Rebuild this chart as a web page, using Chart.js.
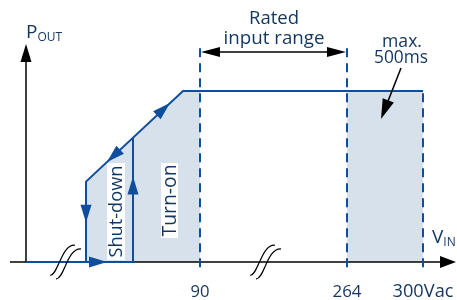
<!DOCTYPE html>
<html><head><meta charset="utf-8">
<script src="https://cdn.jsdelivr.net/npm/chart.js@4"></script>
<style>html,body{margin:0;padding:0;background:#fff}#w{width:457px;height:300px;position:relative}</style>
</head><body><div id="w"><canvas id="c"></canvas></div>
<script>
// Schematic units: x = position along the (broken) V_IN axis, 0 at the P_OUT axis
// y = output power in % of full load
const xShutdown = 60, xTurnOn = 107, xKnee = 157;
const xTicks = [174, 321, 397];
const tickLabels = ['90', '264', '300Vac'];
const yShutdown = 47, yTurnOn = 73, yFull = 100;
const dashTop = 127, dashBottom = -3;
const xAxisRange = [-16, 425];
const yAxisRange = [0, 120];
const breakMarks = [40, 240];

const BLUE = '#0f4d9d', SHADE = '#d6e1ec', TEXT = '#12365f';
const FONT = '"Open Sans"';
const pt = (x, y) => ({x, y});

const shadeTurnOn = [pt(xShutdown,0), pt(xShutdown,yShutdown), pt(xKnee,yFull), pt(xTicks[0],yFull), pt(xTicks[0],0)];
const shadeSurge = [pt(xTicks[1],0), pt(xTicks[1],yFull), pt(xTicks[2],yFull), pt(xTicks[2],0)];
const turnOnPath = [pt(0,0), pt(xTurnOn,0), pt(xTurnOn,yTurnOn)];
const mainPath = [pt(xShutdown,0), pt(xShutdown,yShutdown), pt(xKnee,yFull), pt(xTicks[2],yFull)];

const base = {pointRadius:0, borderJoinStyle:'miter', tension:0, fill:false};
const datasets = [
  {...base, data: shadeTurnOn, borderWidth:0, backgroundColor:SHADE, fill:'origin', order:10},
  {...base, data: shadeSurge, borderWidth:0, backgroundColor:SHADE, fill:'origin', order:10},
  {...base, data: [pt(xAxisRange[0],0), pt(xAxisRange[1],0)], borderColor:'#000', borderWidth:1.5, order:6},
  {...base, data: [pt(0,yAxisRange[0]), pt(0,yAxisRange[1])], borderColor:'#000', borderWidth:1.5, order:6},
  {...base, data: [pt(xTicks[0],dashBottom), pt(xTicks[0],dashTop)], borderColor:BLUE, borderWidth:2, borderDash:[9,6], order:3},
  {...base, data: [pt(xTicks[1],dashBottom), pt(xTicks[1],dashTop)], borderColor:BLUE, borderWidth:2, borderDash:[9,6], order:3},
  {...base, data: [pt(xTicks[2],dashBottom), pt(xTicks[2],yFull)], borderColor:BLUE, borderWidth:2, borderDash:[9,6], order:3},
  {...base, data: turnOnPath, borderColor:BLUE, borderWidth:2, order:1},
  {...base, data: mainPath, borderColor:BLUE, borderWidth:2, order:1},
];

const arrowMarks = [
  {at:[xShutdown,23], from:[xShutdown,yShutdown]},
  {at:[81,0], from:[0,0]},
  {at:[xTurnOn,50], from:[xTurnOn,0]},
  {at:[144,93], from:[xShutdown,yShutdown]},
  {at:[81,58.5], from:[xKnee,yFull]},
];

function head(ctx, tx, ty, ang, len, hw, color){
  ctx.save(); ctx.translate(tx,ty); ctx.rotate(ang);
  ctx.beginPath(); ctx.moveTo(0,0); ctx.lineTo(-len,-hw); ctx.lineTo(-len,hw); ctx.closePath();
  ctx.fillStyle=color; ctx.fill(); ctx.restore();
}
function fit(ctx, text, width){
  ctx.font = '20px ' + FONT;
  const s = 20 * width / ctx.measureText(text).width;
  ctx.font = s.toFixed(2) + 'px ' + FONT;
}

const deco = {
  id:'deco',
  afterDatasetsDraw(chart){
    const {ctx, scales:{x, y}} = chart;
    const X = v => x.getPixelForValue(v), Y = v => y.getPixelForValue(v);
    ctx.save();
    head(ctx, X(0), Y(127.5), -Math.PI/2, 18, 5.5, '#000');
    head(ctx, X(430), Y(0), 0, 16, 6, '#000');
    for (const a of arrowMarks){
      const tx=X(a.at[0]), ty=Y(a.at[1]), fx=X(a.from[0]), fy=Y(a.from[1]);
      head(ctx, tx, ty, Math.atan2(ty-fy, tx-fx), 18, 5.5, BLUE);
    }
    const ry = Y(122.8);
    ctx.strokeStyle='#000'; ctx.lineWidth=1.5;
    ctx.beginPath(); ctx.moveTo(X(xTicks[0])+10, ry); ctx.lineTo(X(xTicks[1])-10, ry); ctx.stroke();
    head(ctx, X(xTicks[0])+1, ry, Math.PI, 19, 5, '#000');
    head(ctx, X(xTicks[1])-1, ry, 0, 19, 5, '#000');
    const ax0=X(375), ay0=Y(113.5), ax1=X(355), ay1=Y(83.6);
    const ang=Math.atan2(ay1-ay0, ax1-ax0);
    ctx.beginPath(); ctx.moveTo(ax0,ay0); ctx.lineTo(ax1-Math.cos(ang)*12, ay1-Math.sin(ang)*12); ctx.stroke();
    head(ctx, ax1, ay1, ang, 20, 6, '#000');
    ctx.lineWidth=1.2; ctx.strokeStyle='#000';
    for (const b of breakMarks){
      const cx=X(b), cy=Y(0);
      for (const off of [-3, 3]){
        ctx.beginPath();
        ctx.moveTo(cx+off-13, cy+off*0.6+15);
        ctx.bezierCurveTo(cx+off-5, cy+off*0.6+16, cx+off-2, cy+off*0.6-16, cx+off+12, cy+off*0.6-15);
        ctx.stroke();
      }
    }
    ctx.fillStyle=TEXT; ctx.textBaseline='alphabetic'; ctx.textAlign='center';
    fit(ctx,'Rated',50); ctx.fillText('Rated', X(248), Y(139.2));
    fit(ctx,'input range',101); ctx.fillText('input range', X(248), Y(127.5));
    fit(ctx,'max.',40); ctx.fillText('max.', X(376), Y(125.7));
    fit(ctx,'500ms',54); ctx.fillText('500ms', X(375), Y(116.4));
    const tw=[19,29,61];
    xTicks.forEach((t,i)=>{ fit(ctx,tickLabels[i],tw[i]); ctx.fillText(tickLabels[i], X(t), Y(-20.5)); });
    ctx.textAlign='left';
    ctx.font='19px '+FONT; ctx.fillText('P', X(0), Y(131));
    let w = ctx.measureText('P').width;
    ctx.font='12px '+FONT; ctx.fillText('OUT', X(0)+w, Y(131)+3);
    ctx.font='19px '+FONT; ctx.fillText('V', X(406), Y(11.1));
    w = ctx.measureText('V').width;
    ctx.font='12px '+FONT; ctx.fillText('IN', X(406)+w, Y(11.1)+3);
    const boxes = [
      {t:'Shut-down', cx:90, cy:29.5, bw:18, bh:97, tw:92},
      {t:'Turn-on', cx:143.5, cy:36, bw:17, bh:75, tw:72},
    ];
    for (const b of boxes){
      const cx=X(b.cx), cy=Y(b.cy);
      ctx.fillStyle='#fff'; ctx.fillRect(cx-b.bw/2, cy-b.bh/2, b.bw, b.bh);
      ctx.save(); ctx.translate(cx, cy); ctx.rotate(-Math.PI/2);
      ctx.fillStyle=TEXT; fit(ctx,b.t,b.tw); ctx.textAlign='center'; ctx.textBaseline='middle';
      ctx.fillText(b.t, 0, 1);
      ctx.restore();
    }
    ctx.restore();
  }
};

new Chart(document.getElementById('c'), {
  type:'line',
  data:{datasets},
  options:{
    responsive:true, maintainAspectRatio:false, animation:false, events:[],
    layout:{padding:0},
    plugins:{legend:{display:false}, tooltip:{enabled:false}},
    scales:{
      x:{type:'linear', min:-26, max:431, display:false},
      y:{type:'linear', min:-22.2, max:153.2, display:false}
    }
  },
  plugins:[deco]
});
</script></body></html>
